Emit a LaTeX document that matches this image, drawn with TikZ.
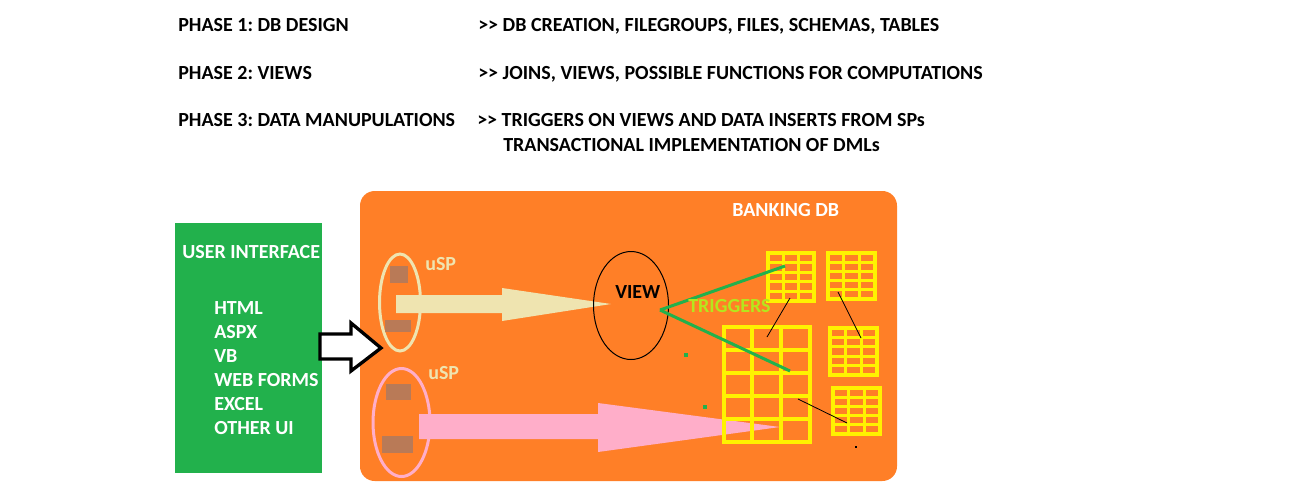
\documentclass[tikz,border=0pt]{standalone}
\usepackage{fontspec}
\setmainfont{Carlito}
\usepackage{tikz}
\frenchspacing
\definecolor{bankorange}{RGB}{255,127,39}
\definecolor{uigreen}{RGB}{34,177,76}
\definecolor{spcream}{RGB}{239,228,176}
\definecolor{sppink}{RGB}{255,174,201}
\definecolor{spbrown}{RGB}{185,122,87}
\definecolor{tblyellow}{RGB}{255,242,0}
\definecolor{triglime}{RGB}{181,230,29}
% table grid: x, y, width, height, line width
\newcommand{\dbgrid}[5]{%
	\draw[tblyellow, line width=#5] (#1,#2) rectangle ++(#3,#4);
	\foreach \c in {1,2} \draw[tblyellow, line width=#5] (#1+\c*#3/3,#2) -- ++(0,#4);
	\foreach \r in {1,...,4} \draw[tblyellow, line width=#5] (#1,#2+\r*#4/5) -- ++(#3,0);
}

\begin{document}
\begin{tikzpicture}[x=0.75pt, y=-0.75pt, font=\fontsize{15}{18}\selectfont\bfseries,
	lbl/.style={anchor=base west, inner sep=0pt},
	trigger/.style={uigreen, line width=2.25pt},
	link/.style={black, line width=0.6pt}]
			\useasboundingbox (0,0) rectangle (1305,497);
			% phases
			\node[lbl] (ph1) at (178,31) {PHASE 1: DB DESIGN};
			\node[lbl] (ph2) at (178,79) {PHASE 2: VIEWS};
			\node[lbl] (ph3) at (178,126) {PHASE 3: DATA MANUPULATIONS};
			\node[lbl] (do1) at (478,31) {{>}{>} DB CREATION, FILEGROUPS, FILES, SCHEMAS, TABLES};
			\node[lbl] (do2) at (478,79) {{>}{>} JOINS, VIEWS, POSSIBLE FUNCTIONS FOR COMPUTATIONS};
			\node[lbl] (do3) at (477,126) {{>}{>} TRIGGERS ON VIEWS AND DATA INSERTS FROM SPs};
			\node[lbl] (do3b) at (503,151) {TRANSACTIONAL IMPLEMENTATION OF DMLs};
			% coordinates
			\coordinate (trig) at (660,310);
			\coordinate (trigA) at (785,266);
			\coordinate (trigB) at (790,371);
			\coordinate (t1foot) at (790,298);
			\coordinate (bigA) at (767,337);
			\coordinate (t2foot) at (838,292);
			\coordinate (t3in) at (861,338);
			\coordinate (bigB) at (798,399);
			\coordinate (t4in) at (847,423);
			% banking db
			\fill[bankorange, rounded corners=11pt] (360,191) rectangle (897,481);
			\node[lbl, white] (bank) at (732,216) {BANKING DB};
			% user interface
			\fill[uigreen] (175,223) rectangle (322,473);
			\node[lbl, white] (ui) at (182,258.5) {USER INTERFACE};
			\foreach \t [count=\i] in {HTML, ASPX, VB, WEB FORMS, EXCEL, OTHER UI}
				\node[lbl, white] (ui\i) at (214,290.5+24*\i) {\t};
			\draw[line width=2.5pt, fill=white, line join=miter]
			(320,334) -- (351,334) -- (351,323) -- (381,348) -- (351,371) -- (351,359) -- (320,359) -- cycle;
			% stored procedures
			\draw[spcream, line width=2.25pt] (400,302.5) ellipse [x radius=20.5, y radius=48.5];
			\draw[sppink, line width=2.25pt] (401.5,422.5) ellipse [x radius=28.5, y radius=54];
			\fill[spbrown] (390,266) rectangle (408,283);
			\fill[spbrown] (385,320) rectangle (411,332);
			\fill[spbrown] (386,384) rectangle (411,400);
			\fill[spbrown] (382,436) rectangle (413,453);
			\node[lbl, spcream] (usp1) at (425,270.5) {uSP};
			\node[lbl, spcream] (usp2) at (428,379.5) {uSP};
			\fill[spcream] (396,295) -- (502,295) -- (502,288) -- (611,304) -- (502,321) -- (502,313) -- (396,313) -- cycle;
			\fill[sppink] (419,414) -- (598,414) -- (598,403) -- (780,427) -- (598,452) -- (598,439) -- (419,439) -- cycle;
			% view
			\draw[line width=0.75pt] (631,305.5) ellipse [x radius=37.5, y radius=54];
			\node[lbl] (view) at (615,298) {VIEW};
			% tables
			\dbgrid{768}{253}{46}{48}{2.5pt}
			\dbgrid{828}{253}{47}{46}{2.5pt}
			\dbgrid{830}{328}{47}{47}{2.5pt}
			\dbgrid{833}{388}{47}{46}{2.5pt}
			\dbgrid{723.5}{326.5}{86}{115}{3pt}
			% triggers
			\draw[trigger] (trig) -- (trigA);
			\draw[trigger] (trig) -- (trigB);
			\node[lbl, triglime] (trg) at (688,312) {TRIGGERS};
			\draw[link] (t1foot) -- (bigA);
			\draw[link] (t2foot) -- (t3in);
			\draw[link] (bigB) -- (t4in);
			\fill[uigreen] (684,353) rectangle ++(4,4);
			\fill[uigreen] (703,405) rectangle ++(4,4);
			\fill (855,446) rectangle ++(2,1.5);
		\end{tikzpicture}
\end{document}
